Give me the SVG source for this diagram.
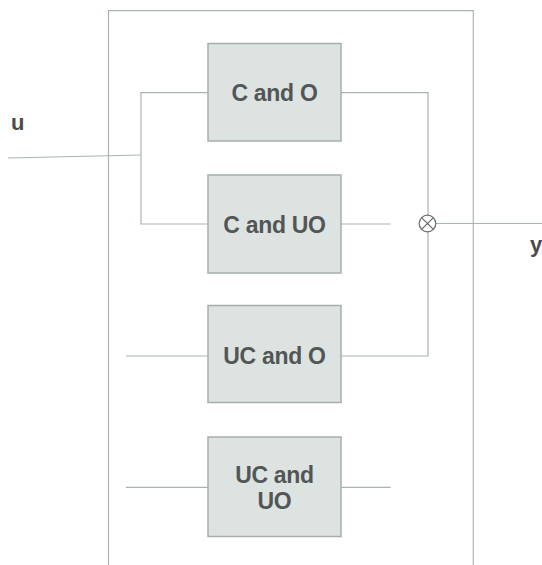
<svg xmlns="http://www.w3.org/2000/svg" width="542" height="565" viewBox="0 0 542 565">
<style>
.wire{fill:none;stroke:#a9b5b5;stroke-width:1.2}
.box{fill:#dde3e1;stroke:#a7adad;stroke-width:1.5}
.lbl{font-family:"Liberation Sans",Arial,sans-serif;font-weight:bold;font-size:23px;fill:#525656;text-anchor:middle;letter-spacing:-0.3px}
.io{font-family:"Liberation Sans",Arial,sans-serif;font-weight:bold;font-size:22px;fill:#4a4c4c}
</style>
<rect width="542" height="565" fill="#ffffff"/>
<g id="connectors">
<path class="wire" d="M108.5,565 V10.7 H473.3 V565"/>
<path class="wire" d="M8,158 L141,155"/>
<path class="wire" d="M208,92.7 H141 V224 H208"/>
<path class="wire" d="M341,92.7 H428 V356 H341"/>
<path class="wire" d="M341,224 H390.6"/>
<path class="wire" d="M436,223.5 H542"/>
<path class="wire" d="M126,356 H208"/>
<path class="wire" d="M126,487.3 H208"/>
<path class="wire" d="M341,487.3 H390.6"/>
</g>
<g id="node-co">
<rect class="box" x="208" y="43.5" width="133" height="97.5"/>
<text class="lbl" x="274.5" y="100.5">C and O</text>
</g>
<g id="node-cuo">
<rect class="box" x="208" y="175" width="133" height="98"/>
<text class="lbl" x="274.5" y="232.5">C and UO</text>
</g>
<g id="node-uco">
<rect class="box" x="208" y="305.5" width="133" height="97"/>
<text class="lbl" x="274.5" y="364">UC and O</text>
</g>
<g id="node-ucuo">
<rect class="box" x="208" y="437" width="133" height="99.5"/>
<text class="lbl" x="274.5" y="483">UC and</text>
<text class="lbl" x="274.5" y="509">UO</text>
</g>
<g id="sum">
<circle cx="427.5" cy="223.5" r="8.3" fill="#ffffff" stroke="#6b6e6e" stroke-width="1.3"/>
<path d="M421.6,217.6 L433.4,229.4 M433.4,217.6 L421.6,229.4" stroke="#6b6e6e" stroke-width="1.3"/>
</g>
<g id="labels">
<text class="io" x="11" y="129.5">u</text>
<text class="io" x="530" y="252">y</text>
</g>
</svg>
